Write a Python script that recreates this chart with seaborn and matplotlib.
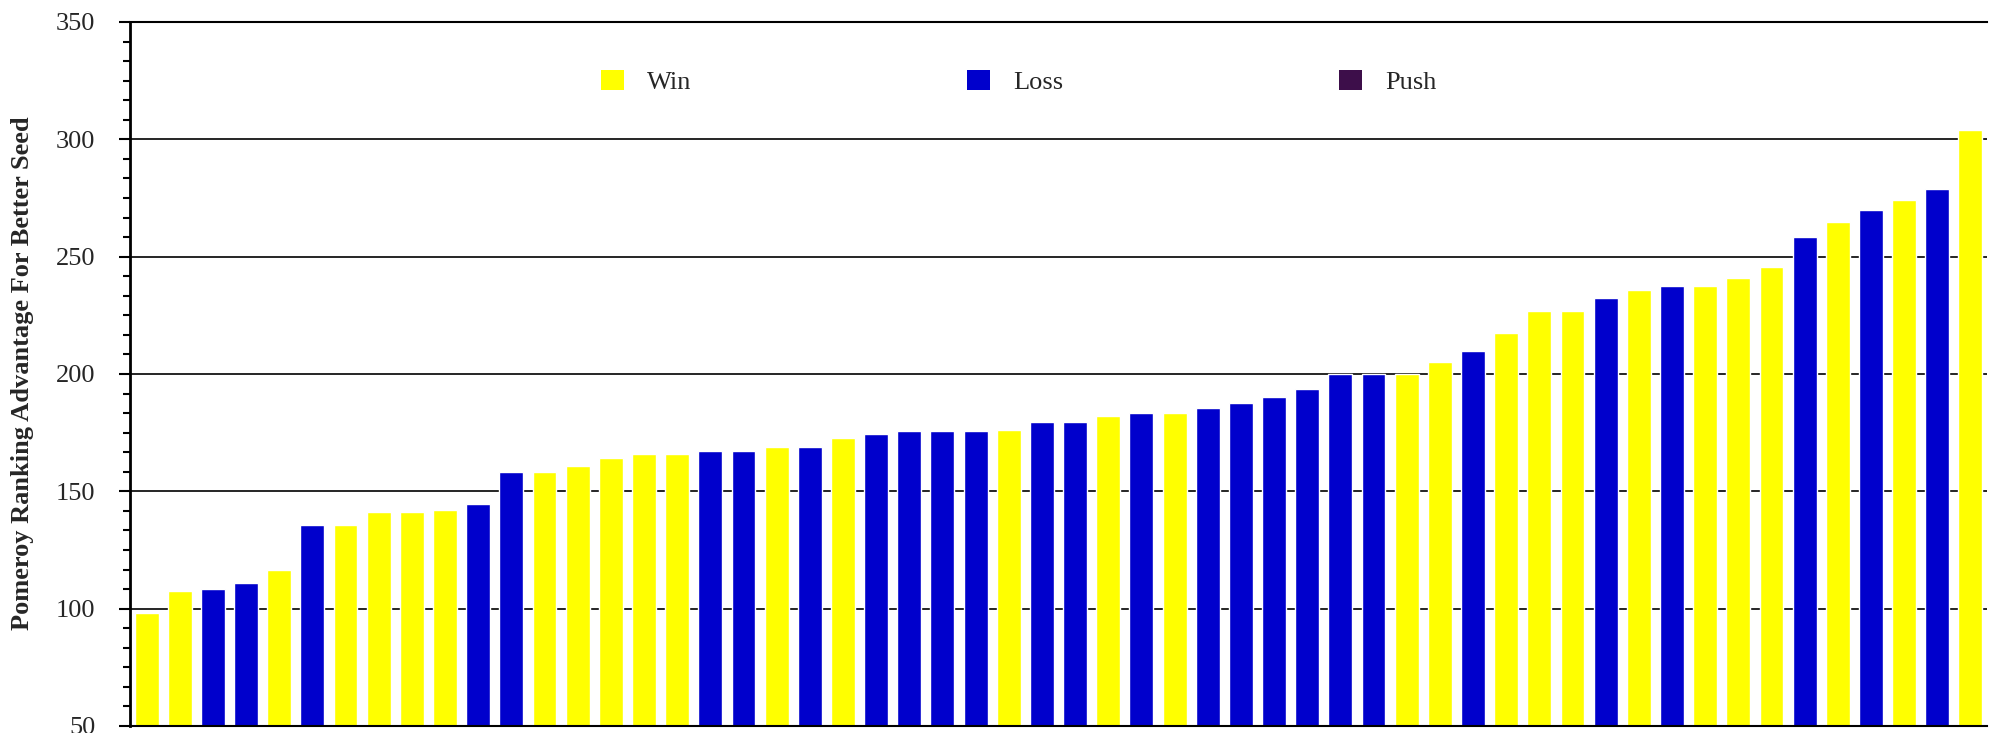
import pandas as pd
import matplotlib
matplotlib.use("Agg")
import matplotlib.pyplot as plt
import seaborn as sns
from matplotlib.patches import Patch
from matplotlib.ticker import MultipleLocator

# games sorted by Pomeroy ranking advantage of the better seed
advantage = [98.0, 107.4, 108.2, 110.8, 116.3, 135.5, 135.5, 141.4, 141.4, 142.2,
             144.8, 158.4, 158.4, 160.6, 164.0, 166.1, 166.1, 167.3, 167.3, 168.7,
             168.7, 172.9, 174.3, 175.5, 175.5, 175.5, 176.3, 179.7, 179.7, 182.3,
             183.3, 183.3, 185.7, 187.8, 190.0, 193.4, 200.2, 200.2, 200.2, 205.0,
             209.6, 217.3, 226.7, 226.7, 232.3, 235.7, 237.6, 237.6, 241.0, 245.8,
             258.2, 264.9, 269.7, 274.3, 278.7, 303.8]
result = ["Win", "Win", "Loss", "Loss", "Win", "Loss", "Win", "Win", "Win", "Win",
          "Loss", "Loss", "Win", "Win", "Win", "Win", "Win", "Loss", "Loss", "Win",
          "Loss", "Win", "Loss", "Loss", "Loss", "Loss", "Win", "Loss", "Loss", "Win",
          "Loss", "Win", "Loss", "Loss", "Loss", "Loss", "Loss", "Loss", "Win", "Win",
          "Loss", "Win", "Win", "Win", "Loss", "Win", "Loss", "Win", "Win", "Win",
          "Loss", "Win", "Loss", "Win", "Loss", "Win"]
outcomes = ["Win", "Loss", "Push"]
colors = {"Win": "#FFFF00", "Loss": "#0000CC", "Push": "#3D0E4A"}

df = pd.DataFrame({"game": range(len(advantage)), "advantage": advantage, "result": result})

sns.set_style("white")
plt.rcParams["font.family"] = ["Liberation Serif", "DejaVu Serif"]

fig = plt.figure(figsize=(19.91, 7.33), dpi=100)
ax = fig.add_axes([130 / 1991, 1 - 726 / 733, 1857 / 1991, 704 / 733])

sns.barplot(data=df, x="game", y="advantage", hue="result", palette=colors,
            dodge=False, width=0.72, saturation=1, legend=False, ax=ax)

ax.set_ylim(50, 350)
ax.set_xlim(-0.5, len(advantage) - 0.5)
ax.yaxis.set_major_locator(MultipleLocator(50))
ax.yaxis.set_minor_locator(MultipleLocator(50 / 6))
ax.set_axisbelow(True)
ax.grid(axis="y", which="major", color="black", linewidth=1.2)
ax.grid(axis="x", visible=False)

ax.tick_params(axis="y", which="major", left=True, length=8, width=1.5,
               color="black", pad=17, labelsize=19)
ax.tick_params(axis="y", which="minor", left=True, length=5, width=1.5, color="black")
ax.tick_params(axis="x", bottom=False, labelbottom=False)
ax.set_xlabel("")
ax.set_ylabel("")

ax.spines["right"].set_visible(False)
ax.spines["top"].set_color("black")
ax.spines["top"].set_linewidth(1.5)
ax.spines["left"].set_color("black")
ax.spines["left"].set_linewidth(2)
ax.spines["bottom"].set_color("black")
ax.spines["bottom"].set_linewidth(1.5)

fig.text(23 / 1991, 1 - 373 / 733, "Pomeroy Ranking Advantage For Better Seed",
         rotation=90, ha="center", va="center", fontsize=19, fontweight="bold")

handles = [Patch(facecolor=colors[o], edgecolor="none", label=o) for o in outcomes]
ax.legend(handles=handles, ncol=3, frameon=False, fontsize=19,
          loc="center left", bbox_to_anchor=(601 / 1991, 1 - 82 / 733),
          bbox_transform=fig.transFigure, borderpad=0, borderaxespad=0,
          handlelength=0.87, handleheight=0.83, handletextpad=0.87,
          columnspacing=10.45)

fig.savefig("out.png", dpi=100)
